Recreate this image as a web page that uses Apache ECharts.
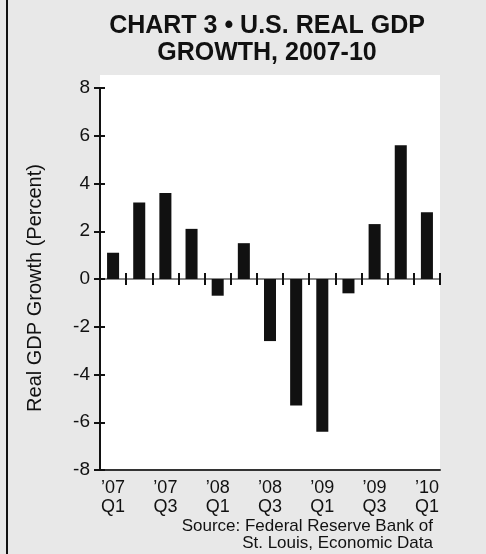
<!DOCTYPE html>
<html>
<head>
<meta charset="utf-8">
<script src="https://cdn.jsdelivr.net/npm/echarts@6/dist/echarts.min.js"></script>
<style>
html,body{margin:0;padding:0;background:#e8e8e8;}
#c{width:486px;height:554px;}
</style>
</head>
<body>
<div id="c"></div>
<script>
const quarters = ["’07 Q1","’07 Q2","’07 Q3","’07 Q4","’08 Q1","’08 Q2","’08 Q3","’08 Q4","’09 Q1","’09 Q2","’09 Q3","’09 Q4","’10 Q1"];
const growth = [1.1, 3.2, 3.6, 2.1, -0.7, 1.5, -2.6, -5.3, -6.4, -0.6, 2.3, 5.6, 2.8];
const yTicks = [-8, -6, -4, -2, 0, 2, 4, 6, 8];
const titleLines = ["CHART 3 • U.S. REAL GDP", "GROWTH, 2007-10"];
const sourceLines = ["Source: Federal Reserve Bank of", "St. Louis, Economic Data"];
const yName = "Real GDP Growth (Percent)";

const chart = echarts.init(document.getElementById('c'), null, {renderer:'canvas'});
const font = 'Liberation Sans, Arial, sans-serif';
const catAxisBase = {type:'category', data:quarters, boundaryGap:true, gridIndex:0};
chart.setOption({
  backgroundColor:'#e8e8e8',
  animation:false,
  title:{
    text:titleLines.join('\n'), left:262, top:8, textAlign:'center',
    textStyle:{fontFamily:'Liberation Sans Narrow, Liberation Sans, sans-serif', fontWeight:'bold', fontSize:25, lineHeight:27, color:'#111'}
  },
  graphic:[
    {type:'rect', left:6, top:0, z:-1, shape:{width:2, height:554}, style:{fill:'#111'}},
    {type:'rect', left:100, top:75, z:-1, shape:{width:340, height:395}, style:{fill:'#ffffff'}},
    {type:'text', right:53, top:518, style:{text:sourceLines.join('\n'), textAlign:'right', font:'17px Liberation Sans, Arial, sans-serif', lineHeight:17, fill:'#111'}}
  ],
  grid:{left:100, right:46, top:88, bottom:84},
  xAxis:[
    Object.assign({}, catAxisBase, {
      position:'bottom',
      axisLine:{onZero:false, lineStyle:{color:'#333', width:2}},
      axisTick:{show:false},
      axisLabel:{interval:1, color:'#111', fontFamily:font, fontSize:18, lineHeight:19, margin:9,
        formatter:v=>v.replace(' ','\n')}
    }),
    Object.assign({}, catAxisBase, {
      position:'bottom',
      axisLine:{onZero:true, lineStyle:{color:'#888', width:2}},
      axisTick:{show:true, interval:0, inside:false, length:6, lineStyle:{color:'#111', width:2}},
      axisLabel:{show:false}
    }),
    Object.assign({}, catAxisBase, {
      position:'top',
      axisLine:{onZero:true, lineStyle:{color:'#888', width:2}},
      axisTick:{show:true, interval:0, inside:false, length:6, lineStyle:{color:'#111', width:2}},
      axisLabel:{show:false}
    })
  ],
  yAxis:[
    {type:'value', min:yTicks[0], max:yTicks[yTicks.length-1], interval:2, position:'left',
      name:yName, nameLocation:'middle', nameRotate:90, nameGap:55,
      nameTextStyle:{fontFamily:font, fontSize:20, color:'#111', padding:[0,18,0,0]},
      axisLine:{show:true, onZero:false, lineStyle:{color:'#111', width:2}},
      axisTick:{show:true, length:6, lineStyle:{color:'#111', width:2}},
      axisLabel:{color:'#111', fontFamily:font, fontSize:19, margin:10},
      splitLine:{show:false}},
    {type:'value', min:yTicks[0], max:yTicks[yTicks.length-1], interval:2, position:'left',
      axisLine:{show:false},
      axisTick:{show:true, inside:true, length:5, lineStyle:{color:'#111', width:2}},
      axisLabel:{show:false}, splitLine:{show:false}}
  ],
  series:[{
    type:'bar', data:growth, xAxisIndex:0, yAxisIndex:0, barWidth:'46%',
    itemStyle:{color:'#111'}
  }]
});
</script>
</body>
</html>
